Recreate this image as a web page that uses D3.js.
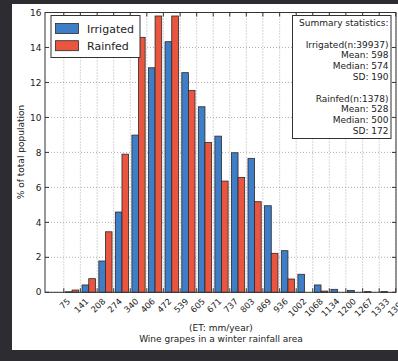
<!DOCTYPE html>
<html>
<head>
<meta charset="utf-8">
<script src="https://cdn.jsdelivr.net/npm/d3@7"></script>
<style>
  body { margin: 0; background: #2d2d31; }
  svg { display: block; font-family: "DejaVu Sans", sans-serif; }
</style>
</head>
<body>
<svg width="398" height="361"></svg>
<script>
// bin edges (ET mm/year) used as x ticks
const binEdges = [75, 141, 208, 274, 340, 406, 472, 539, 605, 671, 737, 803, 869, 936, 1002, 1068, 1134, 1200, 1267, 1333, 1399];
// % of total population per bin
const irrigated = [0.03, 0.42, 1.79, 4.59, 8.99, 12.84, 14.33, 12.56, 10.61, 8.93, 7.98, 7.66, 4.95, 2.38, 1.03, 0.42, 0.17, 0.11, 0.04, 0.04];
const rainfed = [0.13, 0.78, 3.46, 7.9, 14.58, 15.8, 15.8, 11.54, 8.57, 6.36, 6.57, 5.18, 2.23, 0.76, 0, 0.07, 0, 0, 0, 0];
const yTicks = [0, 2, 4, 6, 8, 10, 12, 14, 16];
const seriesNames = ["Irrigated", "Rainfed"];
const seriesColors = ["#3f7ec6", "#ea5540"];
const summaryLines = [
  "Summary statistics:", "",
  "Irrigated(n:39937)", "Mean: 598", "Median: 574", "SD: 190", "",
  "Rainfed(n:1378)", "Mean: 528", "Median: 500", "SD: 172"
];

const svg = d3.select("svg");

// figure background
svg.append("rect").attr("x", 12).attr("y", 4).attr("width", 386).attr("height", 346).attr("fill", "white");

const axLeft = 45, axRight = 396, axTop = 12.5, axBottom = 292.3;
const x = d3.scaleLinear().domain([0, 1400]).range([axLeft, axRight]);
const y = d3.scaleLinear().domain([0, 16]).range([axBottom, axTop]);

// grid
const grid = svg.append("g");
grid.selectAll(".vg").data(binEdges).enter().append("line")
  .attr("x1", (d) => x(d)).attr("x2", (d) => x(d))
  .attr("y1", axTop).attr("y2", axBottom);
grid.selectAll(".hg").data(yTicks).enter().append("line")
  .attr("x1", axLeft).attr("x2", axRight)
  .attr("y1", (d) => y(d)).attr("y2", (d) => y(d));
grid.selectAll("line")
  .attr("stroke", "#9a9a9a").attr("stroke-width", 0.8).attr("stroke-dasharray", "1,2");

// bars
const bins = d3.range(irrigated.length).map((i) => ({
  x0: binEdges[i], x1: binEdges[i + 1], vals: [irrigated[i], rainfed[i]]
}));
const barData = [];
bins.forEach((b) => {
  b.vals.forEach((v, s) => {
    if (v > 0) barData.push({ x0: b.x0, x1: b.x1, v: v, s: s });
  });
});
svg.append("g").selectAll("rect").data(barData).enter().append("rect")
  .attr("x", (d) => {
    const w = x(d.x1) - x(d.x0);
    return x(d.x0) + 0.1 * w + d.s * 0.4 * w;
  })
  .attr("width", (d) => 0.4 * (x(d.x1) - x(d.x0)))
  .attr("y", (d) => y(d.v))
  .attr("height", (d) => axBottom - y(d.v))
  .attr("fill", (d) => seriesColors[d.s])
  .attr("stroke", "#2a2a2a")
  .attr("stroke-width", 0.8);

// axes box and inward ticks
const axes = svg.append("g").attr("stroke", "#333").attr("stroke-width", 1);
axes.append("rect").attr("x", axLeft).attr("y", axTop)
  .attr("width", axRight - axLeft).attr("height", axBottom - axTop).attr("fill", "none");
binEdges.forEach((e) => {
  axes.append("line").attr("x1", x(e)).attr("x2", x(e)).attr("y1", axBottom).attr("y2", axBottom - 4);
  axes.append("line").attr("x1", x(e)).attr("x2", x(e)).attr("y1", axTop).attr("y2", axTop + 4);
});
yTicks.forEach((t) => {
  axes.append("line").attr("x1", axLeft).attr("x2", axLeft + 4).attr("y1", y(t)).attr("y2", y(t));
  axes.append("line").attr("x1", axRight).attr("x2", axRight - 4).attr("y1", y(t)).attr("y2", y(t));
});

// y tick labels
svg.append("g").selectAll("text").data(yTicks).enter().append("text")
  .attr("x", axLeft - 3.5).attr("y", (d) => y(d))
  .attr("dy", "0.35em").attr("text-anchor", "end")
  .attr("font-size", 9).attr("fill", "#222")
  .text((d) => d);

// x tick labels, rotated 45, bbox centred on tick
const xl = svg.append("g").selectAll("text").data(binEdges).enter().append("text")
  .attr("font-size", 8.5).attr("fill", "#222")
  .attr("text-anchor", "middle").attr("dominant-baseline", "central")
  .text((d) => d);
xl.each(function (d) {
  const w = this.getComputedTextLength();
  const half = (w * Math.SQRT1_2 + 7 * Math.SQRT1_2) / 2;
  const cx = x(d) + 1, cy = axBottom + 5 + half;
  d3.select(this).attr("x", cx).attr("y", cy)
    .attr("transform", `rotate(-45,${cx},${cy})`);
});

// axis titles
svg.append("text").attr("x", 221).attr("y", 331).attr("text-anchor", "middle")
  .attr("font-size", 9).attr("fill", "#222").text("(ET: mm/year)");
svg.append("text").attr("x", 221).attr("y", 342).attr("text-anchor", "middle")
  .attr("font-size", 9).attr("fill", "#222").text("Wine grapes in a winter rainfall area");
svg.append("text").attr("transform", "translate(24,152) rotate(-90)")
  .attr("text-anchor", "middle").attr("font-size", 9).attr("fill", "#222")
  .text("% of total population");

// legend
const legend = svg.append("g");
legend.append("rect").attr("x", 51).attr("y", 15.5).attr("width", 89).attr("height", 42)
  .attr("fill", "white").attr("stroke", "#333").attr("stroke-width", 1);
seriesNames.forEach((name, i) => {
  legend.append("rect").attr("x", 55.5).attr("y", 23.5 + i * 17.2).attr("width", 23).attr("height", 10)
    .attr("fill", seriesColors[i]).attr("stroke", "#2a2a2a").attr("stroke-width", 0.8);
  legend.append("text").attr("x", 87).attr("y", 32.5 + i * 17)
    .attr("font-size", 11).attr("fill", "#222").text(name);
});

// summary statistics box
const summary = svg.append("g");
summary.append("rect").attr("x", 292.5).attr("y", 15.5).attr("width", 98.5).attr("height", 123)
  .attr("fill", "white").attr("stroke", "#333").attr("stroke-width", 1);
summary.selectAll("text").data(summaryLines).enter().append("text")
  .attr("x", 388.5).attr("y", (d, i) => 26 + i * 10.8)
  .attr("text-anchor", "end").attr("font-size", 9).attr("fill", "#222")
  .text((d) => d);
</script>
</body>
</html>
